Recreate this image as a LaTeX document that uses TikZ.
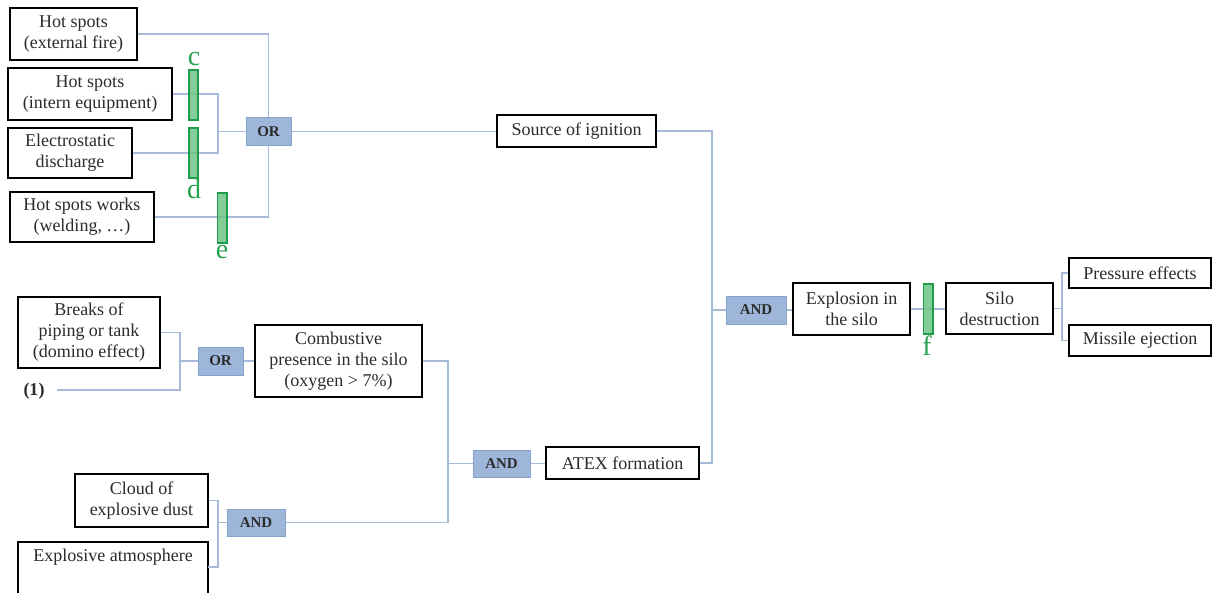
\documentclass[tikz,border=0pt]{standalone}
\usepackage{fontspec}
\setmainfont{Liberation Serif}
\definecolor{conn}{HTML}{A7BAD9}
\definecolor{gatefill}{HTML}{9DB6D9}
\definecolor{gatedraw}{HTML}{86A3CB}
\definecolor{barfill}{HTML}{6FC487}
\definecolor{bardraw}{HTML}{1E9E4A}
\definecolor{lettc}{HTML}{27A24F}
\definecolor{txt}{HTML}{2B2B2B}
\tikzset{
  evbox/.style={draw=black, line width=0.8pt, fill=white, inner sep=0pt, align=center,
    text=txt, font=\fontsize{9}{10.5}\selectfont},
  gate/.style={draw=gatedraw, line width=0.5pt, fill=gatefill, inner sep=0pt,
    text=txt, font=\fontsize{7.5}{8}\selectfont\bfseries},
  conline/.style={draw=conn, line width=0.6pt},
  barrier/.style={draw=bardraw, line width=0.8pt, fill=barfill, fill opacity=0.85,
    inner sep=0pt, minimum width=4.7pt, minimum height=25pt},
  bletter/.style={text=lettc, font=\fontsize{14}{14}\selectfont, inner sep=0pt},
}
\begin{document}
\begin{tikzpicture}[x=0.5pt, y=-0.5pt]
\useasboundingbox (0,0) rectangle (1214,593);
% event boxes
\node[evbox, minimum width=63.5pt, minimum height=26pt] (hs1) at (73.5,34) {Hot spots\\(external fire)};
\node[evbox, minimum width=82pt, minimum height=26pt] (hs2) at (90,94) {Hot spots\\(intern equipment)};
\node[evbox, minimum width=62pt, minimum height=25pt] (es) at (70,153) {Electrostatic\\discharge};
\node[evbox, minimum width=72pt, minimum height=25pt] (hw) at (82,217) {Hot spots works\\(welding, \dots)};
\node[evbox, minimum width=79.5pt, minimum height=16pt] (src) at (576.5,131) {Source of ignition};
\node[evbox, minimum width=58.5pt, minimum height=26pt] (exp) at (851.5,309) {Explosion in\\the silo};
\node[evbox, minimum width=53.5pt, minimum height=25.5pt] (silo) at (999.5,308.5) {Silo\\destruction};
\node[evbox, minimum width=71pt, minimum height=15pt] (pres) at (1140,273) {Pressure effects};
\node[evbox, minimum width=71pt, minimum height=15.5pt] (mis) at (1140,340.5) {Missile ejection};
\node[evbox, minimum width=71pt, minimum height=35.5pt] (brk) at (89,332.5) {Breaks of\\piping or tank\\(domino effect)};
\node[evbox, minimum width=83.5pt, minimum height=36pt] (comb) at (338.5,361) {Combustive\\presence in the silo\\(oxygen \textgreater{} 7\%)};
\node[evbox, minimum width=76.5pt, minimum height=16pt] (atex) at (622.5,463) {ATEX formation};
\node[evbox, minimum width=66.5pt, minimum height=26.5pt] (cloud) at (141.5,500.5) {Cloud of\\explosive dust};
\node[evbox, minimum width=95pt, minimum height=39pt] (atm) at (113,581) {};
\node[text=txt, font=\fontsize{9}{10.5}\selectfont, inner sep=0pt] (atmtext) at (113,557) {Explosive atmosphere};
\node[text=txt, font=\fontsize{9}{10.5}\selectfont\bfseries, inner sep=0pt] (one) at (34,391) {(1)};
% gates
\node[gate, minimum width=22.5pt, minimum height=14pt] (or1) at (268.5,131.5) {OR};
\node[gate, minimum width=30pt, minimum height=14pt] (and2) at (756,310) {AND};
\node[gate, minimum width=22.5pt, minimum height=14pt] (or2) at (220.5,361) {OR};
\node[gate, minimum width=28.5pt, minimum height=13.5pt] (and4) at (501.5,463.5) {AND};
\node[gate, minimum width=29pt, minimum height=13.5pt] (and3) at (256,522.5) {AND};
% junctions
\coordinate (j1) at (218,131.5);
\coordinate (j2) at (712,310);
\coordinate (j3) at (1062,308.5);
\coordinate (j4) at (180,361);
\coordinate (j5) at (448,463.5);
\coordinate (j6) at (218,522.5);
\coordinate (p1) at (57,390);
\coordinate (atmc) at (208,567);
% connectors
\draw[conline] (hs1.east) -| (or1.north);
\draw[conline] (hw.east) -| (or1.south);
\draw[conline] (hs2.east) -| (j1);
\draw[conline] (es.east) -| (j1);
\draw[conline] (j1) -- (or1.west);
\draw[conline] (or1.east) -- (or1.east -| src.west);
\draw[conline] (src.east) -| (j2);
\draw[conline] (atex.east) -| (j2);
\draw[conline] (j2) -- (and2.west);
\draw[conline] (and2.east) -- (and2.east -| exp.west);
\draw[conline] (exp.east) -- (exp.east -| silo.west);
\draw[conline] (silo.east) -- (j3);
\draw[conline] (pres.west) -| (j3);
\draw[conline] (mis.west) -| (j3);
\draw[conline] (brk.east) -| (j4);
\draw[conline] (p1) -| (j4);
\draw[conline] (j4) -- (or2.west);
\draw[conline] (or2.east) -- (comb.west);
\draw[conline] (comb.east) -| (j5);
\draw[conline] (and3.east) -| (j5);
\draw[conline] (j5) -- (and4.west);
\draw[conline] (and4.east) -- (and4.east -| atex.west);
\draw[conline] (cloud.east) -| (j6);
\draw[conline] (atmc) -| (j6);
\draw[conline] (j6) -- (and3.west);
% barriers
\node[barrier] (bc) at (193.5,95) {};
\node[barrier] (bd) at (193.5,153) {};
\node[barrier] (be) at (222,218) {};
\node[barrier] (bf) at (928,309) {};
\node[bletter] (lc) at (194,59) {c};
\node[bletter] (ld) at (194,189) {d};
\node[bletter] (le) at (222,252) {e};
\node[bletter] (lf) at (927,346) {f};
\end{tikzpicture}
\end{document}
